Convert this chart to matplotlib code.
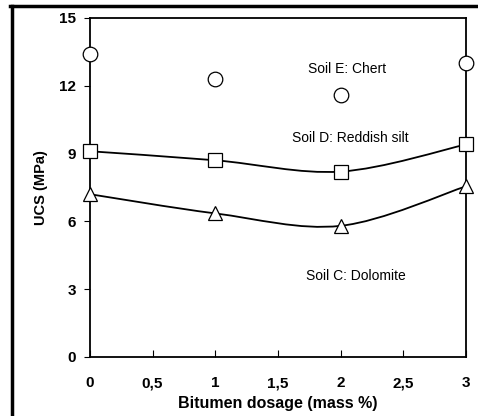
import numpy as np
import matplotlib
matplotlib.use("Agg")
import matplotlib.pyplot as plt
from matplotlib.path import Path
from matplotlib.patches import PathPatch
from matplotlib.lines import Line2D

plt.rcParams['font.family'] = ['Liberation Sans', 'DejaVu Sans']

dosage = [0, 1, 2, 3]
soil_e = [13.4, 12.3, 11.6, 13.0]
soil_d = [9.1, 8.7, 8.2, 9.4]
soil_c = [7.2, 6.35, 5.8, 7.55]
xticks = [0, 0.5, 1, 1.5, 2, 2.5, 3]
xticklabels = ['0', '0,5', '1', '1,5', '2', '2,5', '3']
yticks = [0, 3, 6, 9, 12, 15]


def smooth_path(x, y):
    # bezier segments through the points, excel style smoothing
    p = np.column_stack([x, y]).astype(float)
    n = len(p)
    verts = [p[0]]
    codes = [Path.MOVETO]
    for i in range(n - 1):
        prev = p[i - 1] if i > 0 else p[i]
        nxt = p[i + 2] if i + 2 < n else p[i + 1]
        c1 = p[i] + (p[i + 1] - prev) / 6
        c2 = p[i + 1] - (nxt - p[i]) / 6
        verts += [c1, c2, p[i + 1]]
        codes += [Path.CURVE4] * 3
    return Path(verts, codes)


fig = plt.figure(figsize=(4.78, 4.16), dpi=100)
ax = fig.add_axes([0.188, 0.142, 0.787, 0.815])

for ys in (soil_d, soil_c):
    ax.add_patch(PathPatch(smooth_path(dosage, ys), fill=False, lw=1.3, color='black'))

kw = dict(ls='none', mfc='white', mec='black', mew=0.9, ms=10.5, clip_on=False, zorder=5)
ax.plot(dosage, soil_e, marker='o', **kw)
ax.plot(dosage, soil_d, marker='s', **kw)
ax.plot(dosage, soil_c, marker='^', **kw)

ax.text(2.05, 12.75, 'Soil E: Chert', fontsize=10, ha='center', va='center')
ax.text(2.08, 9.7, 'Soil D: Reddish silt', fontsize=10, ha='center', va='center')
ax.text(2.12, 3.6, 'Soil C: Dolomite', fontsize=10, ha='center', va='center')

ax.set_xlim(0, 3)
ax.set_ylim(0, 15)
ax.set_xticks(xticks)
ax.set_xticklabels(xticklabels)
ax.set_yticks(yticks)
ax.tick_params(axis='x', direction='in', length=5, pad=14, labelsize=11)
ax.tick_params(axis='y', direction='out', length=4, pad=6, labelsize=11)
for lab in ax.get_xticklabels() + ax.get_yticklabels():
    lab.set_fontweight('bold')
for s in ax.spines.values():
    s.set_linewidth(1.3)

ax.set_xlabel('Bitumen dosage (mass %)', fontsize=11.5, fontweight='bold', labelpad=4)
ax.set_ylabel('UCS (MPa)', fontsize=10.5, fontweight='bold', labelpad=8)

# outer frame: only the top and left edges show in the picture
fig.lines.append(Line2D([11.5 / 478, 11.5 / 478], [0, 1 - 5.5 / 416], transform=fig.transFigure,
                        lw=2.5, color='black'))
fig.lines.append(Line2D([10.3 / 478, 1], [1 - 5.5 / 416, 1 - 5.5 / 416], transform=fig.transFigure,
                        lw=2.5, color='black'))

fig.savefig('out.png', dpi=100)
